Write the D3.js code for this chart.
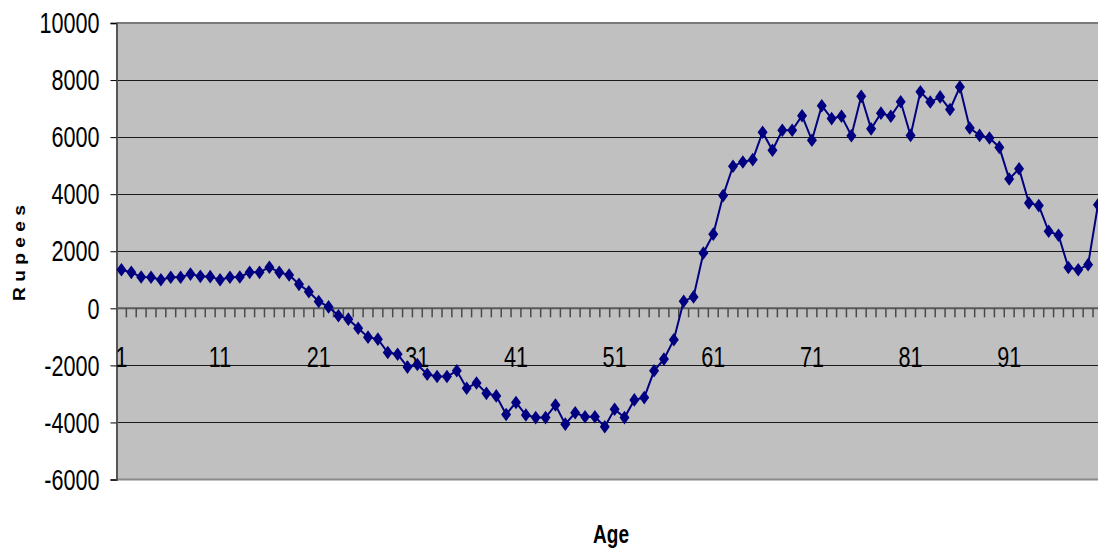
<!DOCTYPE html>
<html>
<head>
<meta charset="utf-8">
<script src="https://cdn.jsdelivr.net/npm/d3@7"></script>
<style>
  html, body { margin: 0; padding: 0; background: #fff; }
  svg { display: block; font-family: "Liberation Sans", Arial, sans-serif; }
</style>
</head>
<body>
<svg id="chart" width="1098" height="555"></svg>
<script>
// Ages along the category axis
const ages = d3.range(1, 101);

// Net amount (Rupees) for each age
const rupees = [
  1350, 1260, 1100, 1090, 1000, 1090, 1090, 1200, 1120, 1110,
  1000, 1090, 1100, 1260, 1260, 1440, 1260, 1170, 840, 580,
  240, 50, -260, -380, -700, -1010, -1080, -1550, -1610, -2060,
  -1970, -2310, -2390, -2390, -2190, -2800, -2620, -2980, -3070, -3720,
  -3300, -3740, -3830, -3830, -3390, -4060, -3660, -3800, -3800, -4150,
  -3540, -3830, -3210, -3130, -2190, -1780, -1100, 250, 400, 1940,
  2600, 3950, 4980, 5130, 5210, 6170, 5540, 6240, 6240, 6750,
  5890, 7100, 6650, 6730, 6050, 7430, 6290, 6840, 6730, 7240,
  6060, 7590, 7230, 7410, 6970, 7760, 6320, 6060, 5970, 5640,
  4530, 4890, 3690, 3600, 2700, 2560, 1430, 1350, 1530, 3630
];

// Axis labels
const yTicks = [-6000, -4000, -2000, 0, 2000, 4000, 6000, 8000, 10000];
const xLabelAges = [1, 11, 21, 31, 41, 51, 61, 71, 81, 91];

const svg = d3.select("#chart");
const plot = { left: 116.5, right: 1102.9, top: 23, bottom: 479.5 };
const stretch = 1.4;   // tall, narrow lettering

const x = d3.scaleBand().domain(ages).range([plot.left, plot.right]).padding(0);
const y = d3.scaleLinear().domain([-6000, 10000]).range([plot.bottom, plot.top]);
const cx = a => x(a) + x.bandwidth() / 2;

// Plot background
svg.append("rect")
  .attr("x", plot.left).attr("y", plot.top)
  .attr("width", plot.right - plot.left).attr("height", plot.bottom - plot.top)
  .attr("fill", "#c0c0c0");

// Horizontal gridlines
svg.append("g").selectAll("line")
  .data(yTicks.filter(v => v !== 0 && v !== -6000 && v !== 10000))
  .join("line")
  .attr("x1", plot.left).attr("x2", plot.right)
  .attr("y1", d => Math.round(y(d)) + 0.5).attr("y2", d => Math.round(y(d)) + 0.5)
  .attr("stroke", "#1a1a1a").attr("stroke-width", 1);

// Plot border lines (top and bottom)
svg.append("line")
  .attr("x1", plot.left).attr("x2", plot.right)
  .attr("y1", y(10000)).attr("y2", y(10000))
  .attr("stroke", "#7a7a7a").attr("stroke-width", 2);
svg.append("line")
  .attr("x1", plot.left).attr("x2", plot.right)
  .attr("y1", y(-6000)).attr("y2", y(-6000))
  .attr("stroke", "#8a8a8a").attr("stroke-width", 2);

// Y axis (plain hyphen for negatives)
const yAxis = d3.axisLeft(y).tickValues(yTicks).tickSize(6).tickPadding(11).tickFormat(d => String(d));
const gy = svg.append("g").attr("transform", `translate(${plot.left},0)`).call(yAxis);
gy.select(".domain").attr("stroke", "#555").attr("stroke-width", 2);
gy.selectAll(".tick line").attr("stroke", "#000");
gy.selectAll(".tick text")
  .attr("font-size", 21.6).attr("fill", "#000")
  .attr("font-family", "Liberation Sans, Arial, sans-serif")
  .attr("transform", `scale(1,${stretch})`);

// Zero line with category tick marks between ages
const y0 = y(0);
svg.append("line")
  .attr("x1", plot.left).attr("x2", plot.right)
  .attr("y1", y0).attr("y2", y0)
  .attr("stroke", "#5a5a5a").attr("stroke-width", 2);
svg.append("g").selectAll("line")
  .data(ages)
  .join("line")
  .attr("x1", d => x(d) + x.bandwidth()).attr("x2", d => x(d) + x.bandwidth())
  .attr("y1", y0).attr("y2", y0 + 9)
  .attr("stroke", "#4a4a4a").attr("stroke-width", 1.5);

// Category labels
const xAxis = d3.axisBottom(x).tickValues(xLabelAges).tickSize(0).tickPadding(0);
const gx = svg.append("g").attr("transform", `translate(0,${y0})`).call(xAxis);
gx.select(".domain").remove();
gx.selectAll(".tick text")
  .attr("font-size", 21.6).attr("fill", "#000")
  .attr("font-family", "Liberation Sans, Arial, sans-serif")
  .attr("dy", 0).attr("y", 58.5 / stretch)
  .attr("transform", `scale(1,${stretch})`);

// Series line and diamond markers
const series = ages.map((a, i) => ({ age: a, value: rupees[i] }));
svg.append("path")
  .datum(series)
  .attr("fill", "none")
  .attr("stroke", "#000080")
  .attr("stroke-width", 2)
  .attr("d", d3.line().x(d => cx(d.age)).y(d => y(d.value)));

svg.append("g").selectAll("path")
  .data(series)
  .join("path")
  .attr("transform", d => `translate(${cx(d.age)},${y(d.value)})`)
  .attr("d", "M0,-6.8L5,0L0,6.8L-5,0Z")
  .attr("fill", "#000080");

// Axis titles
svg.append("text")
  .attr("transform", `translate(611,543) scale(1,${stretch})`)
  .attr("text-anchor", "middle")
  .attr("font-size", 19).attr("font-weight", "bold")
  .text("Age");

svg.append("text")
  .attr("transform", `translate(25,253) rotate(-90) scale(1.2,1)`)
  .attr("text-anchor", "middle")
  .attr("font-size", 16).attr("font-weight", "bold")
  .text("R u p e e s");
</script>
</body>
</html>
